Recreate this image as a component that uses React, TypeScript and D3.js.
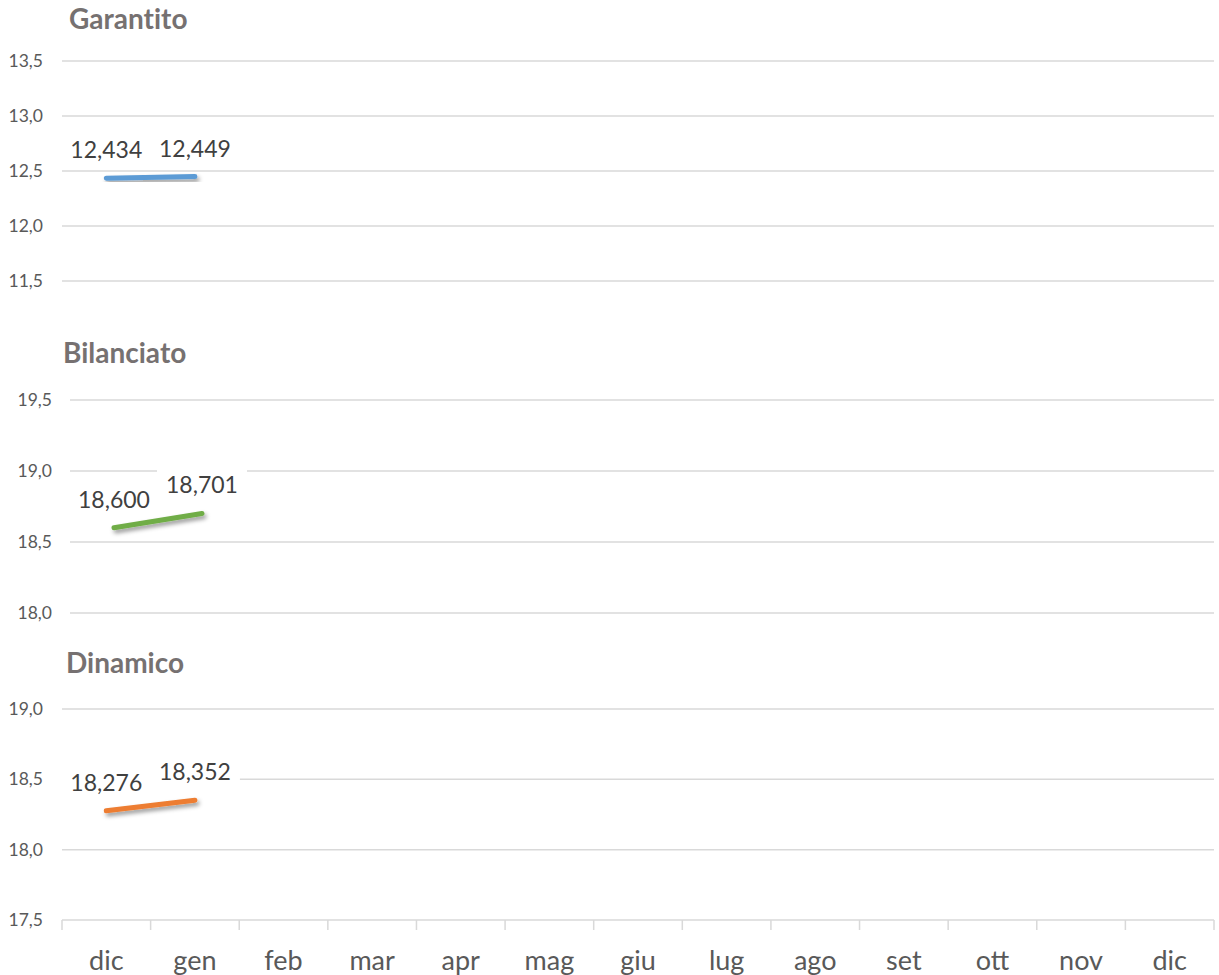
import React from 'react';
import * as d3 from 'd3';

// Monthly unit values per fund line (only the first two months are reported)
const months = ['dic', 'gen', 'feb', 'mar', 'apr', 'mag', 'giu', 'lug', 'ago', 'set', 'ott', 'nov', 'dic'];

const garantito = [12.434, 12.449];
const bilanciato = [18.600, 18.701];
const dinamico = [18.276, 18.352];

const garantitoTicks = [11.5, 12.0, 12.5, 13.0, 13.5];
const bilanciatoTicks = [18.0, 18.5, 19.0, 19.5];
const dinamicoTicks = [17.5, 18.0, 18.5, 19.0];

const W = 1219;
const H = 975;
const FONT = 'Lato, "Open Sans", sans-serif';
const GRID = '#D9D9D9';
const noLig = { fontVariantLigatures: 'none' as const };

const fmtTick = (v: number) => v.toFixed(1).replace('.', ',');
const fmtVal = (v: number) => v.toFixed(3).replace('.', ',');

interface PanelProps {
  title: string;
  values: number[];
  ticks: number[];
  color: string;
  left: number;
  top: number;
  bottom: number;
  titleX: number;
  titleY: number;
  tickRight: number;
  showAxis?: boolean;
}

const Panel: React.FC<PanelProps> = ({ title, values, ticks, color, left, top, bottom, titleX, titleY, tickRight, showAxis }) => {
  const right = 1214;
  const x = d3.scaleBand<number>().domain(d3.range(months.length)).range([left, right]).padding(0);
  const y = d3.scaleLinear().domain(d3.extent(ticks) as [number, number]).range([bottom, top]);
  const cx = (i: number) => (x(i) as number) + x.bandwidth() / 2;

  const line = d3.line<number>().x((_, i) => cx(i)).y(d => y(d));

  return (
    <g>
      <text x={titleX} y={titleY} fontFamily={FONT} fontWeight={700} fontSize={28} fill="#767171" style={noLig}>{title}</text>
      {ticks.map(t => (
        <g key={t}>
          {!(showAxis && t === ticks[0]) && (
            <line x1={left} x2={right} y1={y(t)} y2={y(t)} stroke={GRID} strokeWidth={1.5} />
          )}
          <text x={tickRight} y={y(t)} dy="0.35em" textAnchor="end" fontFamily={FONT} fontSize={17.5} fill="#595959">{fmtTick(t)}</text>
        </g>
      ))}
      {showAxis && (
        <g>
          <line x1={left} x2={right} y1={bottom} y2={bottom} stroke={GRID} strokeWidth={1.5} />
          {d3.range(months.length + 1).map(i => {
            const xx = i < months.length ? (x(i) as number) : right;
            return <line key={i} x1={xx} x2={xx} y1={bottom} y2={bottom + 10} stroke={GRID} strokeWidth={1.5} />;
          })}
          {months.map((m, i) => (
            <text key={i} x={cx(i)} y={bottom + 50} textAnchor="middle" fontFamily={FONT} fontSize={27} fill="#595959">{m}</text>
          ))}
        </g>
      )}
      <path d={line(values) as string} fill="none" stroke={color} strokeWidth={5} strokeLinecap="round" filter="url(#shadow)" />
      {values.map((v, i) => {
        const lbl = fmtVal(v);
        const tw = lbl.length * 12;
        const by = y(v) - 20;
        return (
          <g key={i}>
            <rect x={cx(i) - tw / 2 - 9} y={by - 24} width={tw + 18} height={30} fill="#fff" />
            <text x={cx(i)} y={by} textAnchor="middle" fontFamily={FONT} fontSize={23} fill="#404040">{lbl}</text>
          </g>
        );
      })}
    </g>
  );
};

export default function App() {
  return (
    <svg width={W} height={H} style={{ position: 'absolute', left: 0, top: 0, background: '#fff' }}>
      <defs>
        <filter id="shadow" x="-20%" y="-200%" width="140%" height="500%">
          <feDropShadow dx={2} dy={3} stdDeviation={2} floodColor="#000" floodOpacity={0.4} />
        </filter>
      </defs>
      <rect width={W} height={H} fill="#fff" />
      <Panel title="Garantito" values={garantito} ticks={garantitoTicks} color="#5B9BD5"
        left={62} top={61} bottom={281} titleX={69} titleY={29} tickRight={43} />
      <Panel title="Bilanciato" values={bilanciato} ticks={bilanciatoTicks} color="#70AD47"
        left={70} top={400} bottom={613} titleX={63} titleY={363} tickRight={52} />
      <Panel title="Dinamico" values={dinamico} ticks={dinamicoTicks} color="#ED7D31"
        left={62} top={709} bottom={920} titleX={66} titleY={673} tickRight={43} showAxis />
    </svg>
  );
}
